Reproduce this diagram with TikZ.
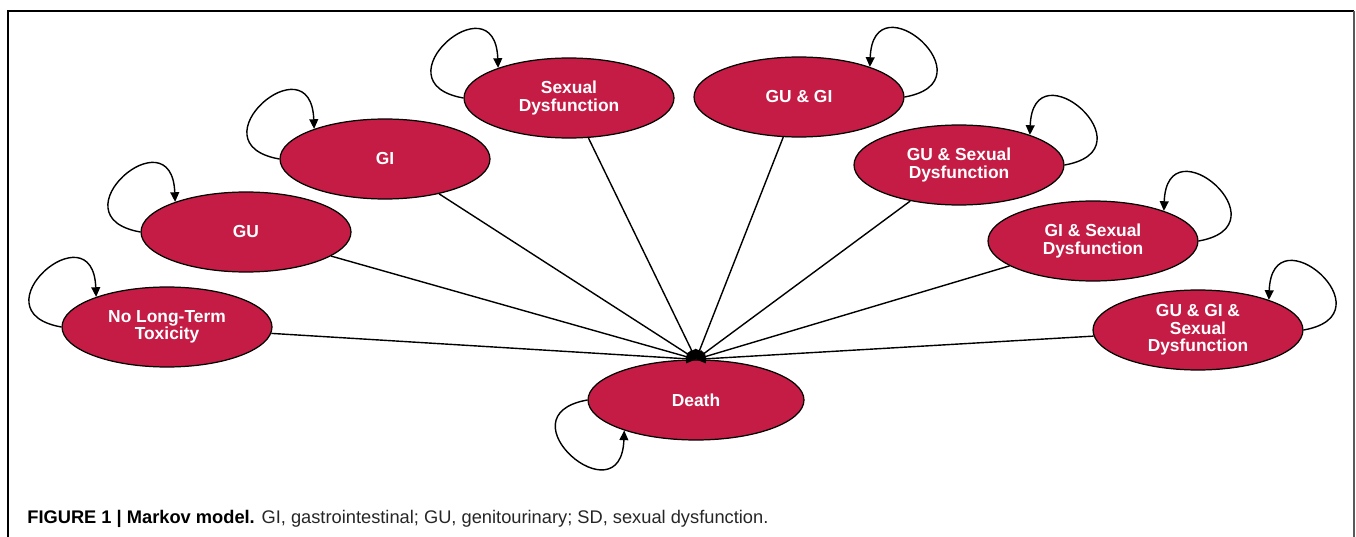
\documentclass[tikz,border=0pt]{standalone}
\usepackage{fontspec}
\setmainfont{Liberation Sans}
\usetikzlibrary{shapes.geometric,arrows.meta}
\definecolor{crim}{RGB}{196,28,69}
\begin{document}
\begin{tikzpicture}[x=0.02cm,y=0.02cm,
  state/.style={ellipse,draw=black,line width=0.7pt,fill=crim,text=white,
    font=\bfseries\fontsize{9.9}{10}\selectfont,align=center,
    minimum width=4.2cm,minimum height=1.6cm,inner sep=0pt},
  tr/.style={draw=black,line width=0.8pt,-{Triangle[length=5.5pt,width=5pt]}}]
\useasboundingbox (0,0) rectangle (1356,-537);
\draw[line width=0.9pt] (8,-537) -- (8,-11) -- (1354,-11);
\draw[gray!70!black,line width=1.1pt] (1354,-11) -- (1354,-537);

\node[state] (nolt) at (167,-327) {No Long-Term\\Toxicity};
\node[state] (gu) at (246,-232) {GU};
\node[state] (gi) at (385,-159) {GI};
\node[state] (sd) at (569,-98) {Sexual\\Dysfunction};
\node[state] (gugi) at (799,-97) {GU \& GI};
\node[state] (gusd) at (959,-165) {GU \& Sexual\\Dysfunction};
\node[state] (gisd) at (1093,-241) {GI \& Sexual\\Dysfunction};
\node[state] (all) at (1198,-330) {GU \& GI \&\\Sexual\\Dysfunction};
\node[state,minimum width=4.32cm] (death) at (696,-400) {Death};

\foreach \n in {nolt,gu,gi,sd,gugi,gusd,gisd,all}
  \draw[tr] (\n) -- (death.north);

\foreach \n in {nolt,gu,gi,sd}
  \draw[tr] (\n.west) .. controls +(170:90) and +(92:90) .. (\n.157);
\foreach \n in {gugi,gusd,gisd,all}
  \draw[tr] (\n.east) .. controls +(10:90) and +(88:90) .. (\n.23);
\draw[tr] (death.west) .. controls +(190:90) and +(-92:90) .. (death.203);

\node[anchor=base west,inner sep=0pt] (cap) at (27,-523)
  {\fontsize{10.4}{12}\selectfont\textbf{FIGURE 1 | Markov model.} \textcolor{black!85}{GI, gastrointestinal; GU, genitourinary; SD, sexual dysfunction.}};
\end{tikzpicture}
\end{document}
